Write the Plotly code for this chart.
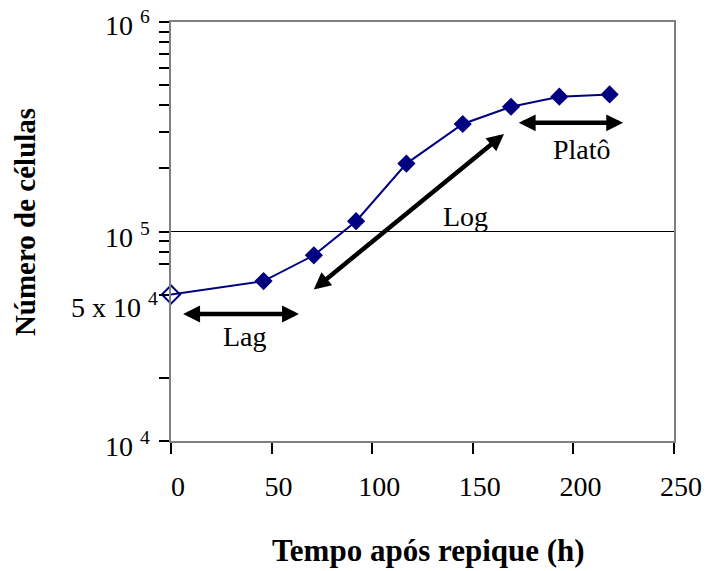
import math
import plotly.graph_objects as go

# Growth curve: cell count over time after subculture
time_h = [0, 46, 71, 92, 117, 145, 169, 193, 218]
cells = [50000, 58000, 77000, 112000, 211000, 326000, 394000, 440000, 451000]

# Axes
x_range = [0, 250]
x_ticks = [0, 50, 100, 150, 200, 250]
y_range_log = [4, 6]
y_ticks = [1e4, 2e4, 5e4, 7e4, 8e4, 9e4,
           1e5, 2e5, 3e5, 4e5, 5e5, 6e5, 7e5, 8e5, 9e5, 1e6]
y_label_vals = [1e6, 1e5, 5e4, 1e4]
y_label_text = ["10 <sup>6</sup>", "10 <sup>5</sup>", "5 x 10 <sup>4</sup>", "10 <sup>4</sup>"]
grid_value = 1e5

# Growth phases: (start time, start count, end time, end count)
phase_names = ["Lag", "Log", "Platô"]
phase_arrows = [
    (5.3, 40400, 63.6, 40400),
    (70.2, 52200, 165.5, 292000),
    (172.1, 330000, 224.7, 330000),
]
phase_label_pos = [(37, 31700), (146.4, 117800), (204.1, 246000)]

SERIF = "Liberation Serif"
NAVY = "#000080"

fig = go.Figure()

# horizontal reference line at 10^5
fig.add_trace(go.Scatter(
    x=x_range, y=[grid_value, grid_value], mode="lines",
    line=dict(color="black", width=1), hoverinfo="skip", showlegend=False,
))

n = len(time_h)
fig.add_trace(go.Scatter(
    x=time_h, y=cells, mode="lines+markers",
    line=dict(color=NAVY, width=2),
    marker=dict(
        symbol=["diamond-open"] + ["diamond"] * (n - 1),
        size=14, color=NAVY,
        line=dict(color=NAVY, width=[2] + [0] * (n - 1)),
    ),
    cliponaxis=False, showlegend=False,
))

annotations = []

# y tick labels
label_shift = {1e6: (-19, -1.5), 1e5: (-19, -3.5), 5e4: (-11, -10.5), 1e4: (-19, -3.5)}
for v, t in zip(y_label_vals, y_label_text):
    xs, ys = label_shift[v]
    annotations.append(dict(
        xref="paper", x=0, yref="y", y=math.log10(v), text=t,
        xanchor="right", yanchor="middle", xshift=xs, yshift=ys,
        showarrow=False, font=dict(family=SERIF, size=28, color="black"),
    ))

# phase arrows
for (x0, y0, x1, y1) in phase_arrows:
    annotations.append(dict(
        xref="x", yref="y", axref="x", ayref="y",
        x=x1, y=math.log10(y1), ax=x0, ay=math.log10(y0), text="",
        showarrow=True, arrowside="end+start",
        arrowhead=2, startarrowhead=2, arrowsize=0.75, startarrowsize=0.75,
        arrowwidth=4.5, arrowcolor="black", standoff=0, startstandoff=0,
    ))

# phase labels
for name, (lx, ly) in zip(phase_names, phase_label_pos):
    annotations.append(dict(
        xref="x", yref="y", x=lx, y=math.log10(ly), text=name,
        showarrow=False, xanchor="center", yanchor="middle",
        font=dict(family=SERIF, size=28, color="black"),
    ))

# axis titles
annotations.append(dict(
    xref="paper", yref="paper", x=0.511, y=-0.2625,
    text="<b>Tempo após repique (h)</b>", showarrow=False,
    xanchor="center", yanchor="middle",
    font=dict(family=SERIF, size=31, color="black"),
))
annotations.append(dict(
    xref="paper", yref="paper", x=-0.29, y=0.5227,
    text="<b>Número de células</b>", showarrow=False, textangle=-90,
    xanchor="center", yanchor="middle",
    font=dict(family=SERIF, size=29, color="black"),
))

fig.update_layout(
    width=714, height=571,
    margin=dict(l=171, r=36, t=22, b=130),
    paper_bgcolor="white", plot_bgcolor="white",
    showlegend=False,
    annotations=annotations,
    xaxis=dict(
        range=x_range, tickvals=x_ticks, ticks="outside", ticklen=11,
        tickwidth=1.5, tickcolor="black",
        showline=True, linecolor="#808080", linewidth=2, mirror=True,
        showgrid=False, zeroline=False,
        tickfont=dict(family=SERIF, size=28, color="black"),
        ticklabelshift=7, ticklabelstandoff=8,
    ),
    yaxis=dict(
        type="log", range=y_range_log, tickvals=y_ticks,
        showticklabels=False, ticks="outside", ticklen=10,
        tickwidth=1.5, tickcolor="black",
        showline=True, linecolor="#808080", linewidth=2, mirror=True,
        showgrid=False, zeroline=False,
    ),
)

fig.write_html("out.html")
